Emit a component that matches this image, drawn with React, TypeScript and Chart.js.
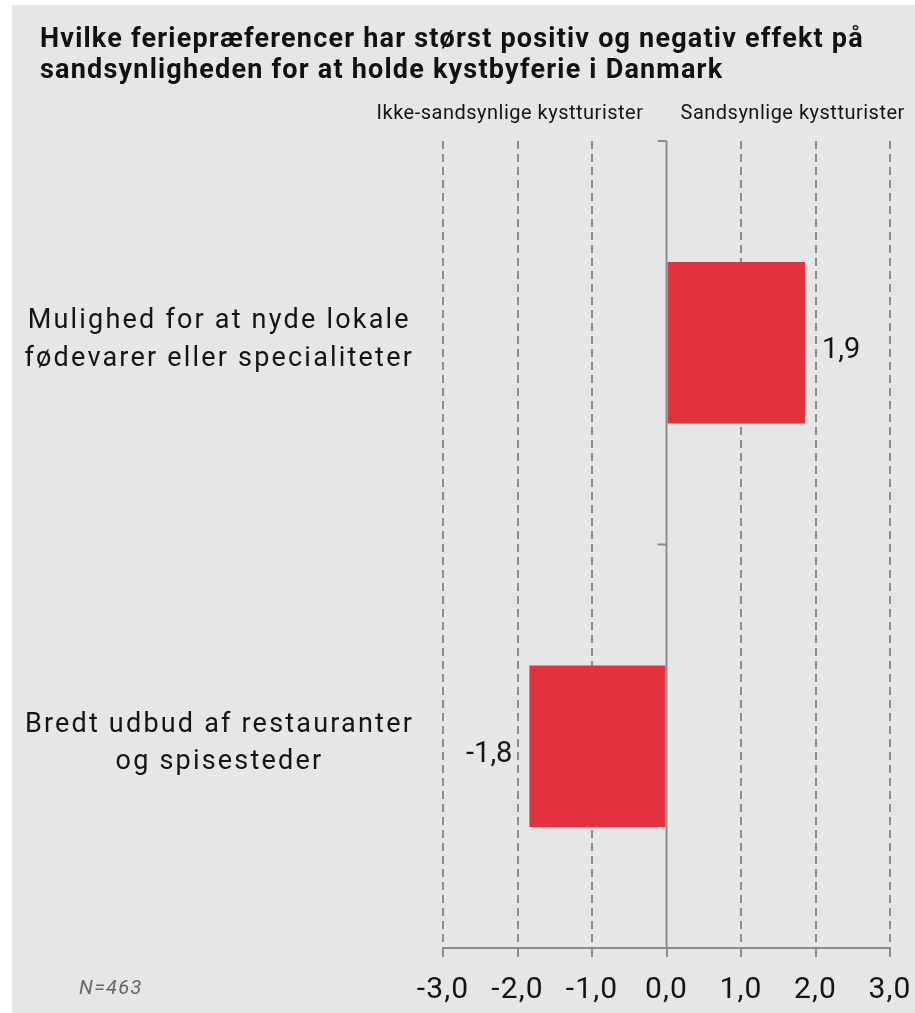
import { useEffect, useRef } from 'react';
import { Chart, registerables } from 'chart.js';

Chart.register(...registerables);

const TITLE_LINES = [
  'Hvilke feriepræferencer har størst positiv og negativ effekt på',
  'sandsynligheden for at holde kystbyferie i Danmark',
];
const CATEGORIES = [
  ['Mulighed for at nyde lokale', 'fødevarer eller specialiteter'],
  ['Bredt udbud af restauranter', 'og spisesteder'],
];
const VALUES = [1.86, -1.84];
const X_MIN = -3;
const X_MAX = 3;
const X_STEP = 1;
const SIDE_LABELS = ['Ikke-sandsynlige kystturister', 'Sandsynlige kystturister'];
const NOTE = 'N=463';

const FONT = 'Roboto, "DejaVu Sans", sans-serif';
const BG = '#e5e6e8';
const BAR_COLOR = '#e3313e';
const GRID = '#8c8c8c';
const TEXT = '#141414';

const fmt = (v: number) => v.toFixed(1).replace('.', ',');

const spacing = {
  id: 'spacing',
  beforeDraw(chart: any) {
    chart.ctx.letterSpacing = '1.2px';
  },
};

const decor = {
  id: 'decor',
  afterDraw(chart: any) {
    const { ctx, chartArea: a, scales } = chart;
    const x = scales.x;
    const y = scales.y;
    ctx.save();
    const x0 = x.getPixelForValue(0);
    // zero line
    ctx.strokeStyle = GRID;
    ctx.lineWidth = 2;
    ctx.setLineDash([]);
    ctx.beginPath();
    ctx.moveTo(x0, a.top);
    ctx.lineTo(x0, a.bottom);
    ctx.stroke();
    // category boundary ticks on zero line
    const n = CATEGORIES.length;
    for (let i = 0; i <= n; i++) {
      let yy: number;
      if (i === 0) yy = a.top;
      else if (i === n) yy = a.bottom;
      else yy = (y.getPixelForValue(i - 1) + y.getPixelForValue(i)) / 2;
      ctx.beginPath();
      ctx.moveTo(x0 - 9, yy);
      ctx.lineTo(x0, yy);
      ctx.stroke();
    }

    // category labels
    ctx.fillStyle = TEXT;
    ctx.font = `27px ${FONT}`;
    ctx.letterSpacing = '2.2px';
    ctx.textBaseline = 'alphabetic';
    ctx.textAlign = 'center';
    CATEGORIES.forEach((lines, i) => {
      const cy = y.getPixelForValue(i);
      const widest = Math.max(...lines.map((l) => ctx.measureText(l).width));
      const cx = a.left - 29 - widest / 2;
      lines.forEach((l, j) => ctx.fillText(l, cx, cy - 14.5 + j * 37.5));
    });

    // value labels
    const meta = chart.getDatasetMeta(0);
    ctx.font = `29px ${FONT}`;
    ctx.letterSpacing = '0px';
    meta.data.forEach((bar: any, i: number) => {
      const v = VALUES[i];
      ctx.textAlign = v >= 0 ? 'left' : 'right';
      ctx.fillText(fmt(v), bar.x + (v >= 0 ? 17 : -17), bar.y + 15.5);
    });

    // title
    ctx.font = `bold 27px ${FONT}`;
    ctx.letterSpacing = '1.2px';
    ctx.textAlign = 'left';
    ctx.fillStyle = '#111';
    ctx.fillText(TITLE_LINES[0], 28, 41.7);
    ctx.fillText(TITLE_LINES[1], 28, 72.7);

    // side headers
    ctx.font = `20px ${FONT}`;
    ctx.letterSpacing = '0.5px';
    ctx.fillStyle = TEXT;
    ctx.textAlign = 'right';
    ctx.fillText(SIDE_LABELS[0], x0 - 23, 114);
    ctx.textAlign = 'left';
    ctx.fillText(SIDE_LABELS[1], x0 + 14, 114);

    // note
    ctx.font = `italic 20px ${FONT}`;
    ctx.letterSpacing = '1.3px';
    ctx.fillStyle = '#666';
    ctx.fillText(NOTE, 67, 989);
    ctx.restore();
  },
};

export default function App() {
  const ref = useRef<HTMLCanvasElement>(null);
  useEffect(() => {
    document.body.style.margin = '0';
    const canvas = ref.current!;
    const chart = new Chart(canvas, {
      type: 'bar',
      data: {
        labels: CATEGORIES.map((c) => c.join(' ')),
        datasets: [
          {
            data: VALUES,
            backgroundColor: BAR_COLOR,
            barPercentage: 0.4,
            categoryPercentage: 1,
          },
        ],
      },
      options: {
        indexAxis: 'y',
        responsive: false,
        animation: false,
        devicePixelRatio: 1,
        layout: { padding: { top: 136, right: 25, bottom: 0, left: 0 } },
        plugins: {
          legend: { display: false },
          tooltip: { enabled: false },
          title: { display: false },
        },
        scales: {
          x: {
            min: X_MIN,
            max: X_MAX,
            ticks: {
              stepSize: X_STEP,
              callback: (v: any) => fmt(Number(v)),
              font: { family: FONT, size: 30 },
              color: TEXT,
              padding: 15,
            },
            grid: {
              color: (c: any) => (c.tick && c.tick.value === 0 ? 'rgba(0,0,0,0)' : GRID),
              lineWidth: 2,
              drawTicks: true,
              tickLength: 9,
              tickColor: GRID,
              tickWidth: 2,
              tickBorderDash: [],
            },
            border: { display: true, color: GRID, width: 2, dash: [8, 5] },
            afterFit: (s: any) => {
              s.height = 65;
              s.paddingLeft = 0;
              s.paddingRight = 0;
            },
          },
          y: {
            ticks: { display: false },
            grid: { display: false, drawTicks: false },
            border: { display: false },
            afterFit: (s: any) => {
              s.width = 431;
            },
          },
        },
      } as any,
      plugins: [spacing, decor],
    });
    return () => chart.destroy();
  }, []);
  return (
    <div style={{ position: 'relative', width: 915, height: 1013, background: '#fff' }}>
      <div style={{ position: 'absolute', left: 12, top: 5, width: 903, height: 1008, background: BG }}>
        <canvas ref={ref} width={903} height={1008} style={{ display: 'block' }} />
      </div>
    </div>
  );
}
